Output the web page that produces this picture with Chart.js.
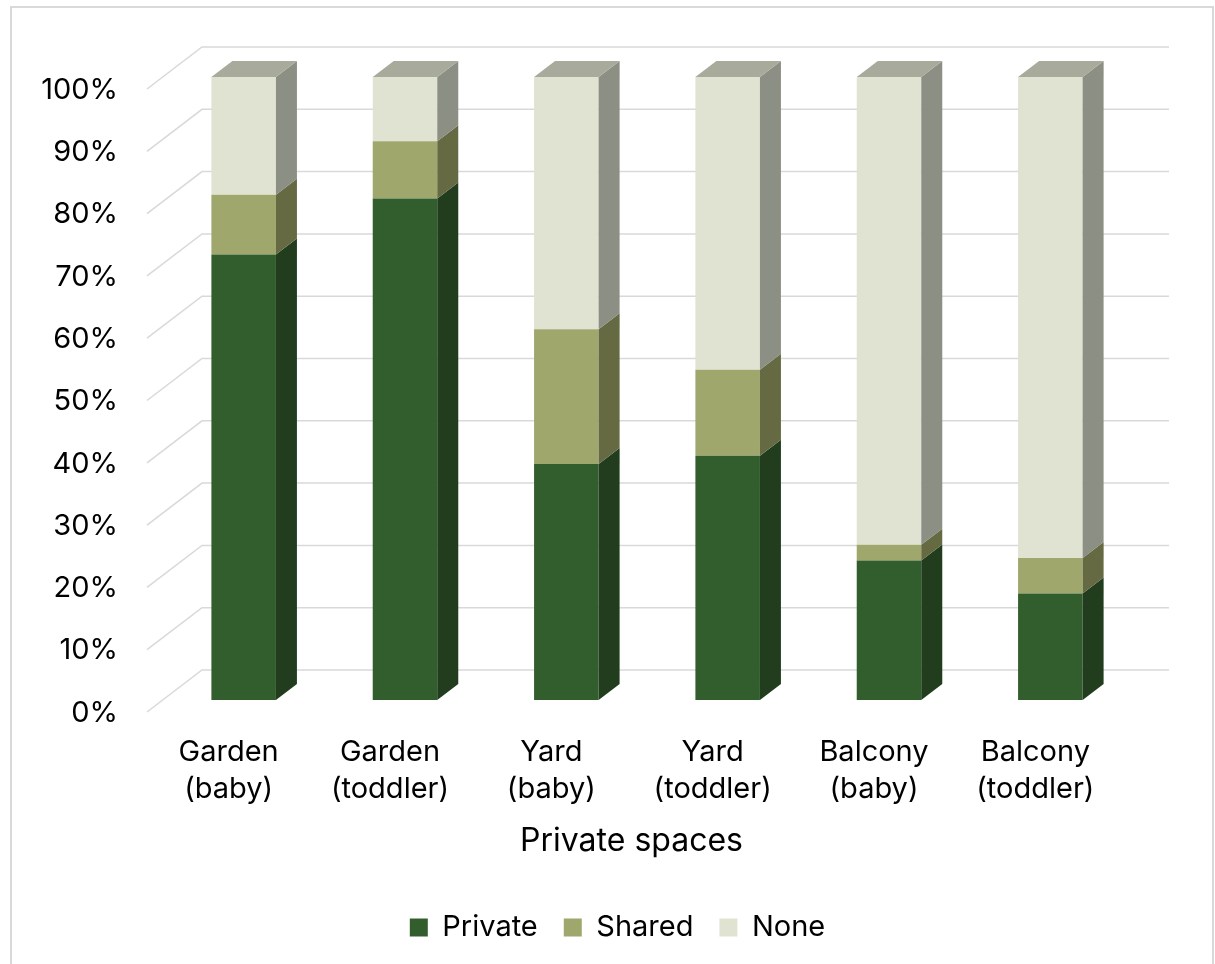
<!DOCTYPE html>
<html>
<head>
<meta charset="utf-8">
<script src="https://cdn.jsdelivr.net/npm/chart.js@4/dist/chart.umd.min.js"></script>
<style>
  body { margin: 0; background: #fff; }
  #wrap { width: 1215px; height: 964px; }
</style>
</head>
<body>
<div id="wrap"><canvas id="myChart" width="1215" height="964"></canvas></div>
<script>
// datos
const categorias = [
  ["Garden", "(baby)"],
  ["Garden", "(toddler)"],
  ["Yard", "(baby)"],
  ["Yard", "(toddler)"],
  ["Balcony", "(baby)"],
  ["Balcony", "(toddler)"]
];
const privado = [71.5, 80.5, 37.9, 39.2, 22.4, 17.1];
const compartido = [9.6, 9.2, 21.6, 13.8, 2.5, 5.7];
const ninguno = [18.9, 10.3, 40.5, 47.0, 75.1, 77.2];
const ticksY = [0, 10, 20, 30, 40, 50, 60, 70, 80, 90, 100];

const fuente = "Inter, 'Noto Sans', sans-serif";
const frente = ["#325e2d", "#9fa76c", "#e0e3d2"];
const lado = ["#213d1e", "#656a43", "#8c8f84"];
const tapa = "#a8ab9c";
const dx = 21, dy = -16;

// marco, paredes y caras 3D
const efecto3d = {
  id: "efecto3d",
  afterLayout(chart) {
    // la leyenda va un poco a la derecha y el titulo del eje un poco a la izquierda
    chart.legend.left += 52;
    chart.legend.right += 52;
    chart.scales.x.left -= 31;
  },
  beforeDraw(chart) {
    const ctx = chart.ctx;
    ctx.save();
    ctx.fillStyle = "#fff";
    ctx.fillRect(0, 0, chart.width, chart.height);
    ctx.strokeStyle = "#d9d9d9";
    ctx.lineWidth = 2;
    ctx.strokeRect(11, 7, 1202, 1000);
    ctx.restore();
  },
  beforeDatasetsDraw(chart) {
    const ctx = chart.ctx;
    const area = chart.chartArea;
    const y = chart.scales.y;
    ctx.save();
    ctx.strokeStyle = "#d9d9d9";
    ctx.lineWidth = 1.5;
    ticksY.forEach((t) => {
      const py = y.getPixelForValue(t);
      ctx.beginPath();
      ctx.moveTo(area.left - 16, py + 12);
      ctx.lineTo(area.left + 39, py - 30);
      ctx.lineTo(area.right + 38, py - 30);
      ctx.stroke();
    });
    ctx.restore();
  },
  afterDatasetsDraw(chart) {
    const ctx = chart.ctx;
    ctx.save();
    chart.data.datasets.forEach((ds, d) => {
      const meta = chart.getDatasetMeta(d);
      meta.data.forEach((bar) => {
        const r = bar.x + bar.width / 2;
        const l = bar.x - bar.width / 2;
        ctx.fillStyle = lado[d];
        ctx.beginPath();
        ctx.moveTo(r, bar.y);
        ctx.lineTo(r + dx, bar.y + dy);
        ctx.lineTo(r + dx, bar.base + dy);
        ctx.lineTo(r, bar.base);
        ctx.closePath();
        ctx.fill();
        if (d === chart.data.datasets.length - 1) {
          ctx.fillStyle = tapa;
          ctx.beginPath();
          ctx.moveTo(l, bar.y);
          ctx.lineTo(l + dx, bar.y + dy);
          ctx.lineTo(r + dx, bar.y + dy);
          ctx.lineTo(r, bar.y);
          ctx.closePath();
          ctx.fill();
        }
      });
    });
    ctx.restore();
  }
};

const data = {
  labels: categorias,
  datasets: [
    { label: "Private", data: privado, backgroundColor: frente[0] },
    { label: "Shared", data: compartido, backgroundColor: frente[1] },
    { label: "None", data: ninguno, backgroundColor: frente[2] }
  ]
};

const config = {
  type: "bar",
  data,
  plugins: [efecto3d],
  options: {
    responsive: false,
    animation: false,
    layout: { padding: { top: 77, left: 0, right: 84, bottom: 12 } },
    datasets: { bar: { barPercentage: 0.4, categoryPercentage: 1 } },
    plugins: {
      tooltip: { enabled: false },
      legend: {
        position: "bottom",
        labels: {
          boxWidth: 18,
          boxHeight: 18,
          padding: 26,
          color: "#000",
          font: { family: fuente, size: 29 }
        }
      }
    },
    scales: {
      x: {
        stacked: true,
        grid: { display: false, drawTicks: false },
        border: { display: false },
        afterFit: (s) => { s.height = 187; },
        ticks: {
          color: "#000",
          padding: 33,
          labelOffset: -15,
          maxRotation: 0,
          font: { family: fuente, size: 29, lineHeight: 1.3 }
        },
        title: {
          display: true,
          text: "Private spaces",
          color: "#000",
          padding: { top: 0, bottom: 26 },
          font: { family: fuente, size: 32 }
        }
      },
      y: {
        stacked: true,
        min: 0,
        max: 100,
        grid: { display: false, drawTicks: false },
        border: { display: false },
        afterFit: (s) => { s.width = 163; },
        afterBuildTicks: (s) => { s.ticks = ticksY.map((v) => ({ value: v })); },
        ticks: {
          color: "#000",
          padding: 45,
          labelOffset: 13,
          font: { family: fuente, size: 29 },
          callback: (v) => v + "%"
        }
      }
    }
  }
};

const myChart = new Chart(document.getElementById("myChart"), config);
</script>
</body>
</html>
